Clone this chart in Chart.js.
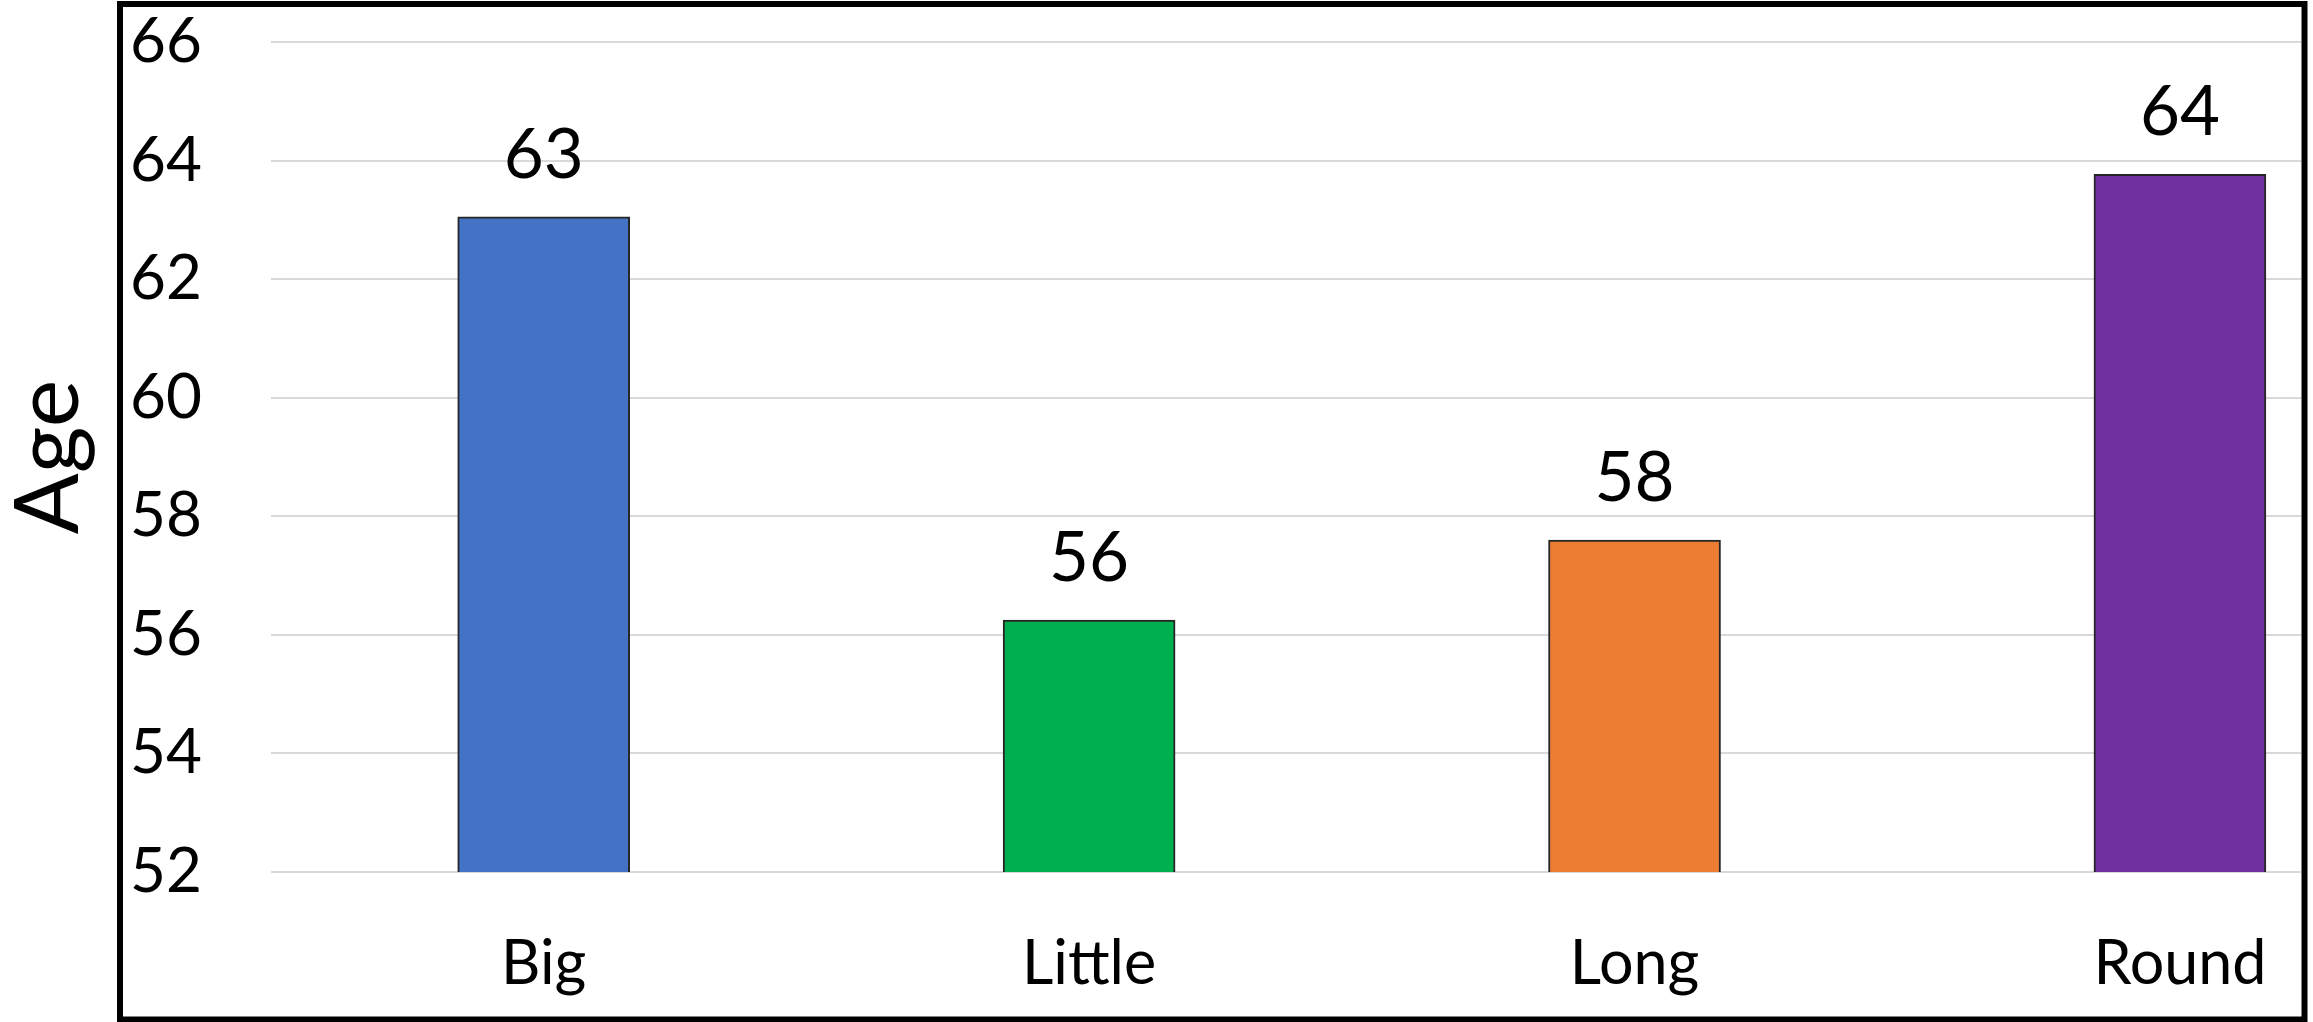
<!DOCTYPE html>
<html>
<head>
<meta charset="utf-8">
<style>
  html, body { margin: 0; padding: 0; background: #ffffff; overflow: hidden; }
  canvas { display: block; }
</style>
<script src="https://cdn.jsdelivr.net/npm/chart.js@4"></script>
</head>
<body>
<canvas id="c" width="2313" height="1022"></canvas>
<script>
// ---- data ----
const categories = ["Big", "Little", "Long", "Round"];
const ageValues = [63.05, 56.25, 57.6, 63.77];
const barColors = ["#4472C4", "#00B050", "#ED7D31", "#7030A0"];
const yTickMin = 52;
const yTickMax = 66;
const yTickStep = 2;
const axisTitle = "Age";

const FONT = "Lato, 'Open Sans', sans-serif";

const dataLabels = {
  id: 'dataLabels',
  afterDatasetsDraw(chart) {
    const ctx = chart.ctx;
    const meta = chart.getDatasetMeta(0);
    ctx.save();
    ctx.font = "69px " + FONT;
    ctx.fillStyle = "#000000";
    ctx.textAlign = "center";
    ctx.textBaseline = "alphabetic";
    meta.data.forEach((bar, i) => {
      ctx.fillText(String(Math.round(ageValues[i])), bar.x, bar.y - 39);
    });
    ctx.restore();
  }
};

const frame = {
  id: 'frame',
  afterDraw(chart) {
    const ctx = chart.ctx;
    ctx.save();
    ctx.strokeStyle = "#000000";
    ctx.lineWidth = 6;
    ctx.strokeRect(120, 4, 2184.5, 1015.5);
    ctx.restore();
  }
};

new Chart(document.getElementById('c'), {
  type: 'bar',
  data: {
    datasets: [{
      label: axisTitle,
      data: categories.map((c, i) => ({ x: i, y: ageValues[i] })),
      backgroundColor: barColors,
      borderColor: "#262626",
      borderWidth: 2,
      borderSkipped: false,
      barThickness: 172
    }]
  },
  options: {
    responsive: false,
    animation: false,
    devicePixelRatio: 1,
    layout: { padding: 0 },
    plugins: {
      legend: { display: false },
      tooltip: { enabled: false }
    },
    scales: {
      x: {
        type: 'linear',
        offset: false,
        min: -0.5,
        max: 3.222,
        grid: { display: false, drawTicks: false, offset: false },
        border: { display: false },
        afterBuildTicks: (axis) => { axis.ticks = categories.map((c, i) => ({ value: i })); },
        afterFit: (axis) => {
          axis.height = 150;
          axis.paddingLeft = 0;
          axis.paddingRight = 12;
        },
        ticks: {
          padding: 56,
          maxRotation: 0,
          autoSkip: false,
          color: "#000000",
          font: { family: FONT, size: 61 },
          callback: (v) => categories[v] ?? ''
        }
      },
      y: {
        type: 'linear',
        min: yTickMin,
        max: yTickMax,
        grid: { color: "#d9d9d9", lineWidth: 2, drawTicks: false },
        border: { display: false },
        afterFit: (axis) => {
          axis.width = 271;
          axis.paddingTop = 42;
          axis.paddingBottom = 0;
        },
        ticks: {
          stepSize: yTickStep,
          padding: 69,
          color: "#000000",
          font: { family: FONT, size: 62 }
        },
        title: {
          display: true,
          text: axisTitle,
          color: "#000000",
          font: { family: FONT, size: 90, lineHeight: 1 },
          padding: { top: 4, bottom: 0 }
        }
      }
    }
  },
  plugins: [dataLabels, frame]
});
</script>
</body>
</html>
